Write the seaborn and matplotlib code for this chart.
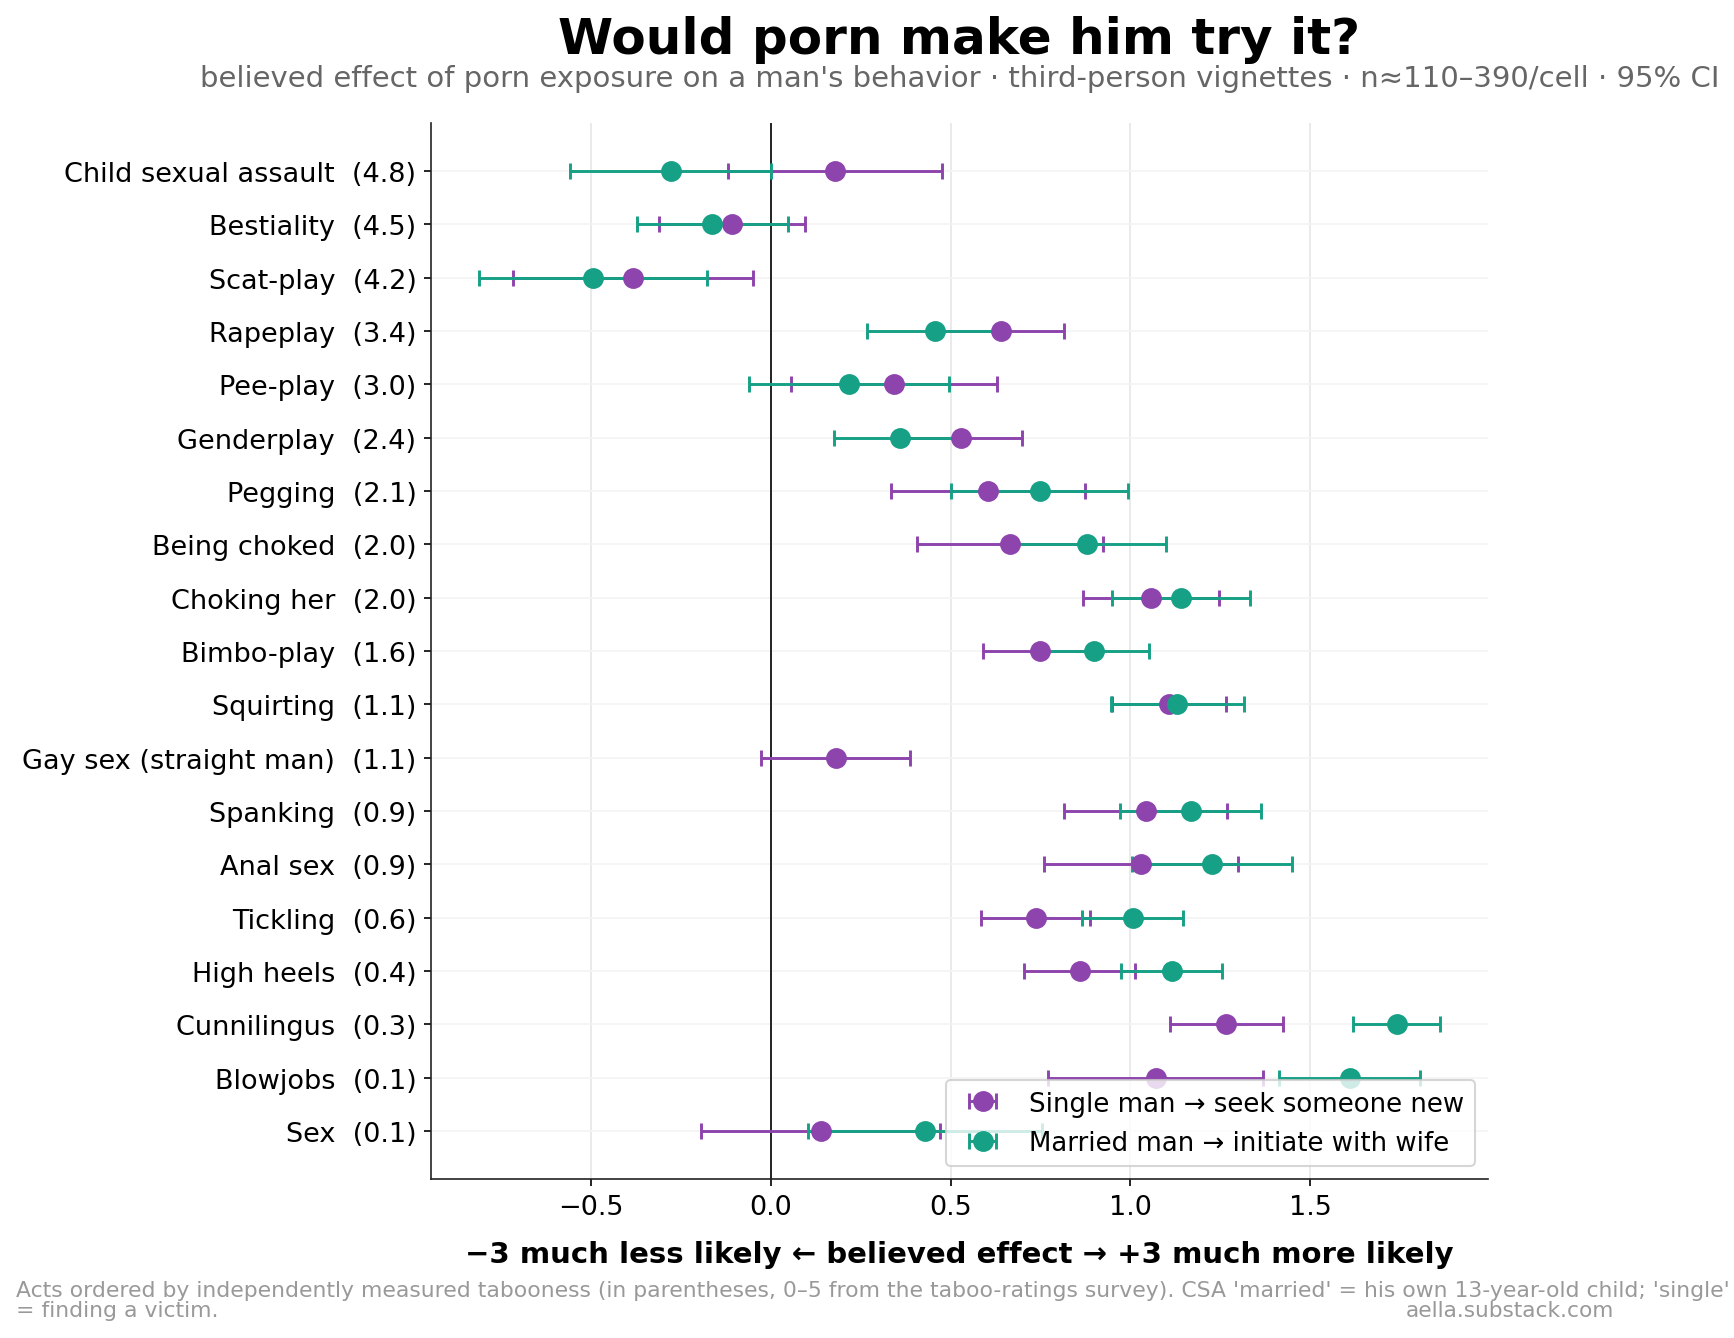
import numpy as np
import pandas as pd
import matplotlib
matplotlib.use("Agg")
import matplotlib.pyplot as plt
import seaborn as sns

# ---------------- data ----------------
acts = ["Child sexual assault", "Bestiality", "Scat-play", "Rapeplay", "Pee-play",
        "Genderplay", "Pegging", "Being choked", "Choking her", "Bimbo-play",
        "Squirting", "Gay sex (straight man)", "Spanking", "Anal sex", "Tickling",
        "High heels", "Cunnilingus", "Blowjobs", "Sex"]
taboo = [4.8, 4.5, 4.2, 3.4, 3.0, 2.4, 2.1, 2.0, 2.0, 1.6,
         1.1, 1.1, 0.9, 0.9, 0.6, 0.4, 0.3, 0.1, 0.1]

single_mean = [0.180, -0.107, -0.381, 0.641, 0.344, 0.528, 0.604, 0.666, 1.058, 0.749,
               1.107, 0.182, 1.044, 1.030, 0.738, 0.860, 1.266, 1.071, 0.141]
single_lo = [-0.117, -0.311, -0.716, 0.467, 0.057, 0.358, 0.334, 0.407, 0.867, 0.590,
             0.948, -0.027, 0.815, 0.759, 0.585, 0.704, 1.110, 0.772, -0.192]
single_hi = [0.477, 0.095, -0.049, 0.815, 0.630, 0.698, 0.873, 0.923, 1.246, 0.908,
             1.266, 0.387, 1.268, 1.299, 0.887, 1.013, 1.423, 1.367, 0.470]

married_mean = [-0.278, -0.162, -0.493, 0.457, 0.218, 0.359, 0.749, 0.880, 1.141, 0.899,
                1.130, np.nan, 1.169, 1.228, 1.008, 1.116, 1.742, 1.611, 0.428]
married_lo = [-0.557, -0.372, -0.810, 0.269, -0.059, 0.176, 0.500, 0.661, 0.949, 0.747,
              0.945, np.nan, 0.971, 1.004, 0.865, 0.974, 1.618, 1.414, 0.104]
married_hi = [0.001, 0.048, -0.178, 0.645, 0.497, 0.542, 0.993, 1.099, 1.332, 1.051,
              1.316, np.nan, 1.363, 1.449, 1.146, 1.255, 1.860, 1.805, 0.755]

series_labels = ["Single man \u2192 seek someone new", "Married man \u2192 initiate with wife"]
series_colors = ["#8e44ad", "#16a085"]

tick_labels = [f"{a}  ({t:.1f})" for a, t in zip(acts, taboo)]

df = pd.DataFrame({
    "act": acts, "pos": np.arange(len(acts)),
    "s_mean": single_mean, "s_lo": single_lo, "s_hi": single_hi,
    "m_mean": married_mean, "m_lo": married_lo, "m_hi": married_hi,
})

# ---------------- style ----------------
sns.set_style("ticks")
plt.rcParams["font.family"] = ["DejaVu Sans"]
plt.rcParams["text.color"] = "black"
plt.rcParams["axes.labelcolor"] = "black"
plt.rcParams["xtick.color"] = "black"
plt.rcParams["ytick.color"] = "black"
plt.rcParams["axes.edgecolor"] = "#222222"
plt.rcParams["axes.linewidth"] = 0.8
plt.rcParams["xtick.major.size"] = 3.5
plt.rcParams["ytick.major.size"] = 3.5
plt.rcParams["xtick.major.width"] = 0.8
plt.rcParams["ytick.major.width"] = 0.8

DPI = 150
fig = plt.figure(figsize=(1734 / DPI, 1339 / DPI), dpi=DPI)
L, R, B, T = 0.2486, 0.8581, 0.1187, 0.9075
ax = fig.add_axes([L, B, R - L, T - B])

# grid
ax.set_axisbelow(True)
ax.grid(axis="x", color="#e6e6e6", linewidth=0.8)
ax.grid(axis="y", color="#f4f4f4", linewidth=0.8)

ax.axvline(0, color="black", linewidth=0.8, zorder=1.5)

for prefix, lab, col in zip(["s", "m"], series_labels, series_colors):
    d = df.dropna(subset=[f"{prefix}_mean"])
    xerr = np.vstack([d[f"{prefix}_mean"] - d[f"{prefix}_lo"],
                      d[f"{prefix}_hi"] - d[f"{prefix}_mean"]])
    ax.errorbar(d[f"{prefix}_mean"], d["pos"], xerr=xerr, fmt="o", color=col,
                ecolor=col, elinewidth=1.4, capsize=4, capthick=1.4,
                markersize=9, label=lab, zorder=3)

ax.set_yticks(df["pos"])
ax.set_yticklabels(tick_labels, fontsize=13)
ax.tick_params(axis="x", labelsize=13)
ax.invert_yaxis()
sns.despine(ax=ax)

ax.set_xlabel("\u22123 much less likely \u2190 believed effect \u2192 +3 much more likely",
              fontsize=14, fontweight="bold", labelpad=10)

leg = ax.legend(loc="lower right", fontsize=12.5, frameon=True)
leg.get_frame().set_edgecolor("#cccccc")

cx = (L + R) / 2
fig.text(cx, 0.970, "Would porn make him try it?", ha="center", va="center",
         fontsize=24, fontweight="bold")
fig.text(cx, 0.941,
         "believed effect of porn exposure on a man's behavior \u00b7 third-person vignettes \u00b7 "
         "n\u2248110\u2013390/cell \u00b7 95% CI",
         ha="center", va="center", fontsize=14, color="#666666")

fig.text(0.009, 0.0284,
         "Acts ordered by independently measured tabooness (in parentheses, 0\u20135 from the "
         "taboo-ratings survey). CSA 'married' = his own 13-year-old child; 'single'\n"
         "= finding a victim.",
         ha="left", va="center", fontsize=10.5, color="#999999", linespacing=1.05)
fig.text(0.931, 0.0212, "aella.substack.com", ha="right", va="center",
         fontsize=10.4, color="#999999")

fig.savefig("out.png", dpi=DPI)
